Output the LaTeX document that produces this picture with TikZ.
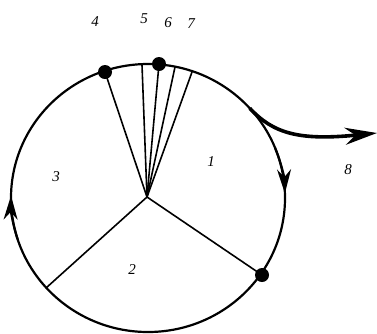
\documentclass[tikz,border=0pt]{standalone}
\usepackage{fontspec}
\setmainfont{Liberation Serif}
\usetikzlibrary{arrows.meta}
\begin{document}
\begin{tikzpicture}[x=1pt,y=-1pt,
  rim/.style={line width=2.2pt},
  spoke/.style={line width=1.6pt},
  flow/.style={line width=3.6pt,-{Stealth[length=32pt,width=17pt]}},
  dir/.style={line width=2.2pt,-{Stealth[length=24pt,width=14pt]}},
  dot/.style={circle,fill=black,inner sep=0pt,minimum size=14pt},
  lab/.style={font=\fontsize{15}{17}\selectfont\itshape,inner sep=0pt}]
\useasboundingbox (0,0) rectangle (377,333);
\coordinate (c) at (148,198);
\coordinate (hub) at (147,197);
% rim
\draw[rim] (c) ellipse[x radius=137,y radius=134];
% points on the rim
\coordinate (p4) at (105,72);
\coordinate (p5) at (142,65);
\coordinate (p6) at (159,64);
\coordinate (p6b) at (175,67);
\coordinate (p7) at (192,72);
\coordinate (pr) at (262,275);
\coordinate (pl) at (46,288);
\coordinate (b) at (249.8,108.3);
\coordinate (tip) at (377,133);
% spokes
\draw[spoke] (hub) -- (p4);
\draw[spoke] (hub) -- (p5);
\draw[spoke] (hub) -- (p6);
\draw[spoke] (hub) -- (p6b);
\draw[spoke] (hub) -- (p7);
\draw[spoke] (hub) -- (pr);
\draw[spoke] (hub) -- (pl);
% dots
\node[dot] (d4) at (p4) {};
\node[dot] (d6) at (p6) {};
\node[dot] (dr) at (pr) {};
% direction arrows on the rim
\draw[dir] ([shift={(148,198)}]162:137 and 134) arc[start angle=162,end angle=181,x radius=137,y radius=134];
\draw[dir] ([shift={(148,198)}]-22:137 and 134) arc[start angle=-22,end angle=-2,x radius=137,y radius=134];
% outflow
\draw[flow] (b) .. controls (273,133) and (298,141) .. (tip);
% labels
\node[lab] (l4) at (95,22) {4};
\node[lab] (l5) at (144,19) {5};
\node[lab] (l6) at (168,23) {6};
\node[lab] (l7) at (191,24) {7};
\node[lab] (l1) at (211,162) {1};
\node[lab] (l3) at (56,177) {3};
\node[lab] (l2) at (132,270) {2};
\node[lab] (l8) at (348,170) {8};
\end{tikzpicture}
\end{document}
